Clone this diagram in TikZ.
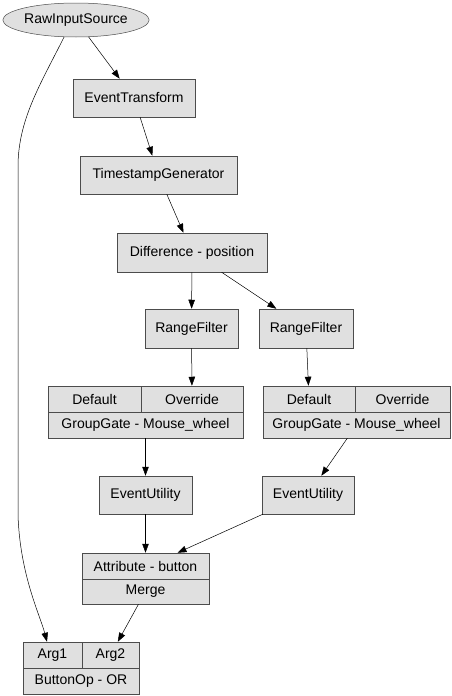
\documentclass[tikz,border=0pt]{standalone}
\usepackage{fontspec}
\setmainfont{Liberation Sans}
\usetikzlibrary{arrows.meta}
\usetikzlibrary{shapes.geometric}
\definecolor{boxgray}{RGB}{224,224,224}

\begin{document}
\begin{tikzpicture}[x=1pt,y=-1pt,->,>={Triangle[length=9pt,width=6.5pt]},
    line width=0.5pt,
    box node/.style={rectangle,draw=black!70,fill=boxgray,inner sep=0pt,font=\fontsize{14}{16}\selectfont},
    src node/.style={ellipse,draw=black!70,fill=boxgray,inner sep=0pt,font=\fontsize{14}{16}\selectfont}]
   \useasboundingbox (0,0) rectangle (451,696);
   \begin{scope}
     \node[src node,minimum width=138pt,minimum height=34pt] (raw) at (76,20) {RawInputSource};
     \node[box node,minimum width=122pt,minimum height=38pt] (et) at (134,98) {EventTransform};
     \node[box node,minimum width=157pt,minimum height=38pt] (tg) at (158.5,175) {TimestampGenerator};
     \node[box node,minimum width=150pt,minimum height=39pt] (diff) at (192,252.5) {Difference - position};
     \node[box node,minimum width=93pt,minimum height=39pt] (rfa) at (191.5,328.5) {RangeFilter};
     \node[box node,minimum width=94pt,minimum height=39pt] (rfb) at (306,328.5) {RangeFilter};
      % group gates
      \node[box node,minimum width=93pt,minimum height=26pt] (ggadef) at (94.5,399) {Default};
      \node[box node,minimum width=102pt,minimum height=26pt] (ggaover) at (192,399) {Override};
      \node[box node,minimum width=195pt,minimum height=26pt] (gga) at (145.5,425) {GroupGate - Mouse\_wheel};
      \node[box node,minimum width=92pt,minimum height=26pt] (ggbdef) at (309,399) {Default};
      \node[box node,minimum width=95pt,minimum height=26pt] (ggbover) at (402.5,399) {Override};
      \node[box node,minimum width=187pt,minimum height=26pt] (ggb) at (356.5,425) {GroupGate - Mouse\_wheel};
     \node[box node,minimum width=93pt,minimum height=38pt] (eua) at (145.5,495) {EventUtility};
     \node[box node,minimum width=92pt,minimum height=38pt] (eub) at (308,495) {EventUtility};
      % merge
      \node[box node,minimum width=127pt,minimum height=26pt] (attr) at (145.5,566) {Attribute - button};
      \node[box node,minimum width=127pt,minimum height=25pt] (merge) at (145.5,591.5) {Merge};
      % button op
      \node[box node,minimum width=59pt,minimum height=26pt] (arga) at (52.5,655) {Arg1};
      \node[box node,minimum width=57pt,minimum height=26pt] (argb) at (110.5,655) {Arg2};
      \node[box node,minimum width=116pt,minimum height=26pt] (bop) at (81,681) {ButtonOp - OR};
       \path (raw) edge (et);
       \path (et) edge (tg);
       \path (tg) edge (diff);
       \path (diff) edge (rfa);
       \path (diff) edge (rfb);
       \path (rfa) edge (ggaover);
       \path (rfb) edge (ggbdef);
      \path (gga) edge (eua);
      \path (ggb) edge (eub);
      \path (eua) edge (attr);
      \path ([xshift=1pt]eub.south west) edge ([xshift=32pt]attr.north);
      \path (merge) edge (argb);
      \draw (raw.235) .. controls (40,85) and (18,120) .. (18,167) -- (18,515)
        .. controls (20,575) and (40,615) .. ([xshift=-5.5pt]arga.north);
    \end{scope}
  \end{tikzpicture}
\end{document}
